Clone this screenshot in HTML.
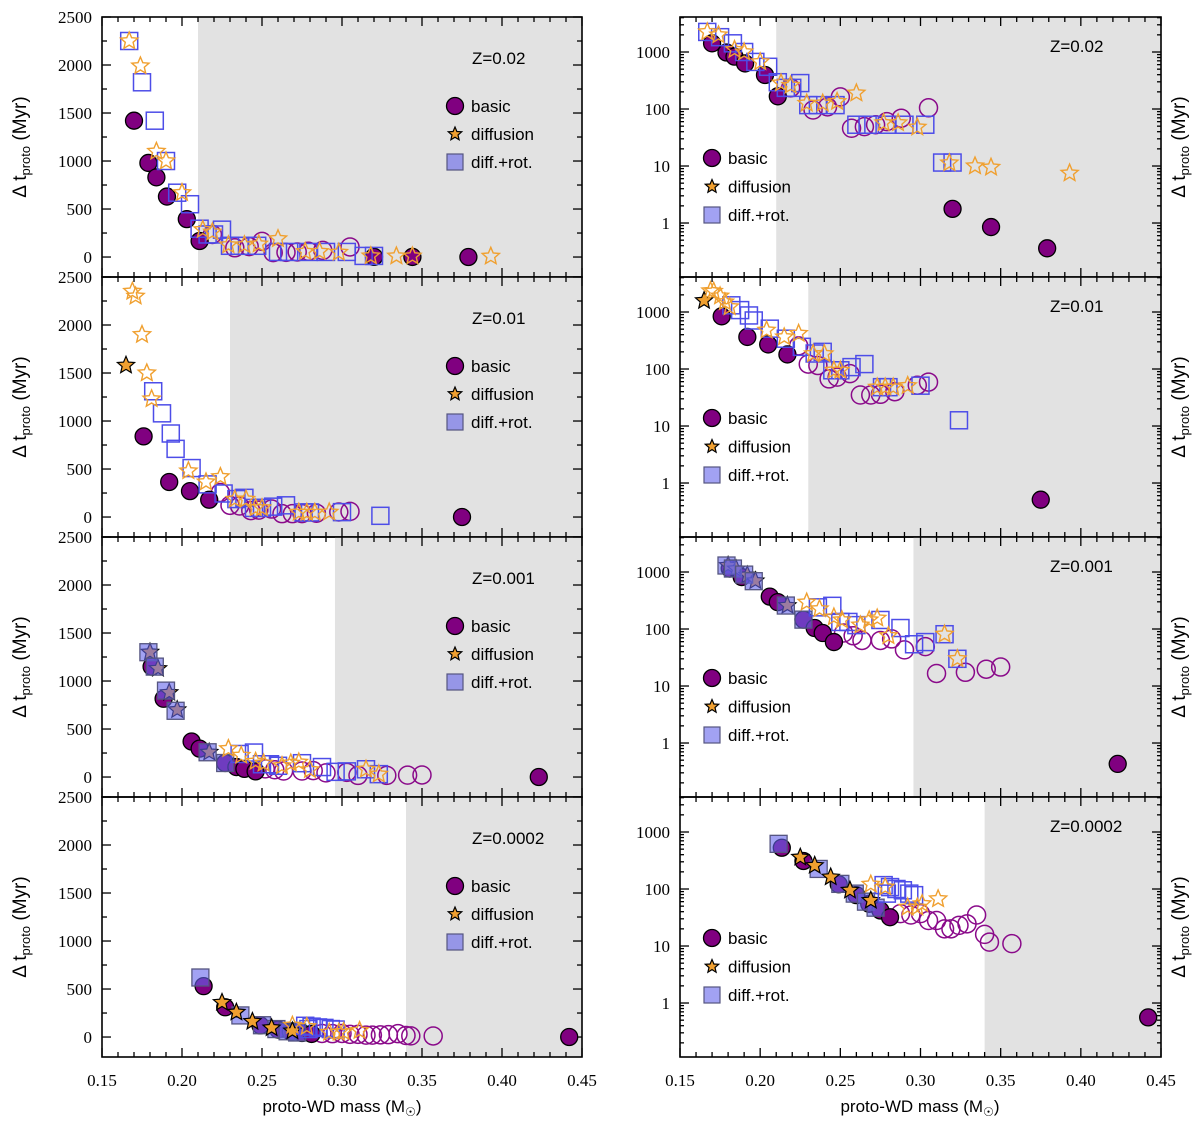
<!DOCTYPE html>
<html><head><meta charset="utf-8"><style>
html,body{margin:0;padding:0;background:#fff;}
svg{display:block;}
.tk{font-family:"Liberation Serif",serif;font-size:17px;fill:#000;}
.lb{font-family:"Liberation Sans",sans-serif;font-size:17px;fill:#000;}
.yt{font-family:"Liberation Sans",sans-serif;font-size:19px;fill:#000;}
</style></head><body>
<svg id="fig" width="1200" height="1131" viewBox="0 0 1200 1131" xmlns="http://www.w3.org/2000/svg"></svg>
<script>
// ---- data: [proto-WD mass, Delta t_proto (Myr)] ----
const zLabels = ["Z=0.02", "Z=0.01", "Z=0.001", "Z=0.0002"];
const shadeFrom = [0.21, 0.23, 0.2956, 0.34];

const z1_basic = [[0.170,1420],[0.179,980],[0.184,830],[0.1906,630],[0.203,395],[0.211,167],[0.320,1.77],[0.344,0.85],[0.379,0.36]];
const z1_basicOpen = [[0.219,235],[0.233,96],[0.242,109],[0.250,163],[0.257,46],[0.265,49],[0.272,53],[0.279,60],[0.288,69],[0.305,105]];
const z1_diff = [[0.167,2250],[0.174,1990],[0.184,1100],[0.190,1000],[0.200,670],[0.213,285],[0.219,260],[0.229,126],[0.239,126],[0.248,135],[0.260,190],[0.277,57],[0.286,57],[0.298,48],[0.318,11.3],[0.334,10],[0.344,9.5],[0.393,7.5]];
const z1_diffFilled = [];
const z1_rot = [[0.167,2250],[0.175,1820],[0.183,1420],[0.190,1000],[0.197,670],[0.205,550],[0.211,295],[0.216,235],[0.220,235],[0.225,285],[0.230,117],[0.236,117],[0.247,117],[0.260,53],[0.267,53],[0.279,53],[0.290,53],[0.303,53],[0.3135,11.5],[0.320,11.5]];
const z1_rotFilled = [];

const z2_basic = [[0.176,840],[0.192,365],[0.205,270],[0.217,180],[0.375,0.51]];
const z2_basicOpen = [[0.224,255],[0.230,122],[0.236,115],[0.243,67],[0.248,72],[0.256,83],[0.2625,35],[0.269,35],[0.275,36],[0.284,40],[0.298,52],[0.305,59]];
const z2_diff = [[0.169,2350],[0.171,2300],[0.175,1900],[0.178,1500],[0.181,1230],[0.204,480],[0.215,365],[0.224,420],[0.233,185],[0.240,185],[0.246,95],[0.250,95],[0.273,48],[0.278,48],[0.283,48],[0.292,51]];
const z2_diffFilled = [[0.165,1580]];
const z2_rot = [[0.182,1310],[0.1875,1080],[0.193,870],[0.196,710],[0.206,510],[0.216,340],[0.226,245],[0.234,187],[0.239,200],[0.245,95],[0.250,95],[0.257,108],[0.265,122],[0.276,48],[0.280,48],[0.300,51],[0.324,12.6]];
const z2_rotFilled = [];

const z3_basic = [[0.181,1150],[0.1885,815],[0.206,370],[0.211,296],[0.227,146],[0.234,104],[0.239,85],[0.246,59],[0.423,0.43]];
const z3_basicOpen = [[0.252,85],[0.258,76],[0.2635,63],[0.275,63],[0.282,67],[0.290,43],[0.303,49],[0.310,16.6],[0.328,17.4],[0.341,19.7],[0.350,21.5]];
const z3_diff = [[0.229,295],[0.237,225],[0.246,162],[0.251,144],[0.2625,117],[0.268,144],[0.273,155],[0.280,76],[0.315,81],[0.323,30]];
const z3_diffFilled = [[0.180,1300],[0.185,1130],[0.192,880],[0.197,700],[0.217,258]];
const z3_rot = [[0.236,240],[0.245,255],[0.250,133],[0.255,133],[0.260,117],[0.275,144],[0.2875,104],[0.296,54],[0.303,59],[0.315,81],[0.323,30]];
const z3_rotFilled = [[0.179,1300],[0.183,1150],[0.190,900],[0.196,690],[0.216,258],[0.227,146]];

const z4_basic = [[0.2135,530],[0.227,310],[0.249,121],[0.260,78],[0.268,55],[0.275,42],[0.281,32],[0.442,0.56]];
const z4_basicOpen = [[0.2875,37],[0.294,35],[0.300,37],[0.305,28],[0.310,28],[0.315,20],[0.319,20],[0.324,23],[0.329,24.5],[0.335,35],[0.340,16],[0.343,11.7],[0.357,11]];
const z4_diff = [[0.269,121],[0.278,108],[0.292,48],[0.298,48],[0.301,55],[0.311,67]];
const z4_diffFilled = [[0.225,360],[0.234,258],[0.244,162],[0.256,95],[0.269,63]];
const z4_rot = [[0.277,117],[0.279,83],[0.281,108],[0.285,100],[0.289,95],[0.293,83],[0.296,78]];
const z4_rotFilled = [[0.2115,620],[0.2365,225],[0.250,123],[0.259,83],[0.266,60],[0.272,47]];

const rows = [
 {basic:z1_basic,basicOpen:z1_basicOpen,diff:z1_diff,diffFilled:z1_diffFilled,rot:z1_rot,rotFilled:z1_rotFilled,sqTop:false},
 {basic:z2_basic,basicOpen:z2_basicOpen,diff:z2_diff,diffFilled:z2_diffFilled,rot:z2_rot,rotFilled:z2_rotFilled,sqTop:false},
 {basic:z3_basic,basicOpen:z3_basicOpen,diff:z3_diff,diffFilled:z3_diffFilled,rot:z3_rot,rotFilled:z3_rotFilled,sqTop:true},
 {basic:z4_basic,basicOpen:z4_basicOpen,diff:z4_diff,diffFilled:z4_diffFilled,rot:z4_rot,rotFilled:z4_rotFilled,sqTop:false}
];
const xTicks = [0.15,0.20,0.25,0.30,0.35,0.40,0.45];
const linTicks = [0,500,1000,1500,2000,2500];
const logTicks = [1,10,100,1000];

// ---- layout ----
const NS="http://www.w3.org/2000/svg";
const svg=document.getElementById('fig');
const XMIN=0.15,XMAX=0.45,PH=260,TOP=17;
const LIN_MIN=-208,LIN_MAX=2500,LOG_MIN=-0.947,LOG_MAX=3.614;
const panels=[{x0:102,x1:582,log:false},{x0:680,x1:1161,log:true}];
function mk(tag,attrs,parent){const e=document.createElementNS(NS,tag);for(const k in attrs)e.setAttribute(k,attrs[k]);(parent||svg).appendChild(e);return e;}
function starPts(cx,cy,R){const r=R*0.45;let p=[];for(let i=0;i<10;i++){const a=-Math.PI/2+i*Math.PI/5;const rr=i%2?r:R;p.push((cx+rr*Math.cos(a)).toFixed(1)+','+(cy+rr*Math.sin(a)).toFixed(1));}return p.join(' ');}

rows.forEach((row,ri)=>{
 const y0=TOP+ri*PH,y1=y0+PH;
 panels.forEach((P,pi)=>{
  const sx=m=>P.x0+(m-XMIN)/(XMAX-XMIN)*(P.x1-P.x0);
  const sy=P.log?(v=>y1-(Math.log10(v)-LOG_MIN)/(LOG_MAX-LOG_MIN)*PH):(v=>y1-(v-LIN_MIN)/(LIN_MAX-LIN_MIN)*PH);
  const g=mk('g',{});
  
  
  const sh=mk('rect',{x:sx(shadeFrom[ri]),y:y0,width:P.x1-sx(shadeFrom[ri]),height:PH,fill:'#e2e2e2'},g);
  
  
  const tg=mk('g',{stroke:'#000','stroke-width':1.3},g);
  
  
  for(let i=0;i<=30;i++){const m=XMIN+i*0.01,x=sx(m),L=(i%5===0)?9:5;
   mk('line',{x1:x,y1:y1,x2:x,y2:y1-L},tg);mk('line',{x1:x,y1:y0,x2:x,y2:y0+L},tg);}
  if(!P.log){
   for(let v=0;v<=2500;v+=250){const y=sy(v),L=(v%500===0)?9:5;
    mk('line',{x1:P.x0,y1:y,x2:P.x0+L,y2:y},tg);mk('line',{x1:P.x1,y1:y,x2:P.x1-L,y2:y},tg);}
  } else {
   for(let d=-1;d<=3;d++)for(let k=1;k<=9;k++){const v=k*Math.pow(10,d);const lv=Math.log10(v);if(lv<LOG_MIN||lv>LOG_MAX)continue;const y=sy(v),L=k===1?9:4;
    mk('line',{x1:P.x0,y1:y,x2:P.x0+L,y2:y},tg);mk('line',{x1:P.x1,y1:y,x2:P.x1-L,y2:y},tg);}
  }
  (P.log?logTicks:linTicks).forEach(v=>{const t=mk('text',{x:P.x0-10,y:sy(v)+6,'text-anchor':'end',class:'tk'},g);t.textContent=String(v);
   
   });
  if(ri===3){xTicks.forEach(m=>{const t=mk('text',{x:sx(m),y:1086,'text-anchor':'middle',class:'tk'},g);t.textContent=m.toFixed(2);
   
   });}
  const mg=mk('g',{},g);
  
  
  const drawSqF=()=>row.rotFilled.forEach(d=>{const x=sx(d[0]),y=sy(d[1]);const r=mk('rect',{x:x-8.5,y:y-8.5,width:17,height:17,fill:'rgba(100,100,235,0.6)',stroke:'#555580','stroke-width':1.3},mg);
   
   });
  const drawStF=()=>row.diffFilled.forEach(d=>{const s=mk('polygon',{points:starPts(sx(d[0]),sy(d[1]),9),fill:'#f0a030',stroke:'#000','stroke-width':1.2},mg);
   
   });
  row.basicOpen.forEach(d=>{const c=mk('circle',{cx:sx(d[0]),cy:sy(d[1]),r:9,fill:'none',stroke:'#8a0a8a','stroke-width':1.5},mg);
   
   });
  row.basic.forEach(d=>{const c=mk('circle',{cx:sx(d[0]),cy:sy(d[1]),r:8.5,fill:'#800080',stroke:'#000','stroke-width':1.3},mg);
   
   });
  if(row.sqTop){drawStF();drawSqF();}else{drawSqF();drawStF();}
  row.rot.forEach(d=>{const x=sx(d[0]),y=sy(d[1]);const r=mk('rect',{x:x-8.5,y:y-8.5,width:17,height:17,fill:'none',stroke:'#4d4de8','stroke-width':1.5},mg);
   
   });
  row.diff.forEach(d=>{const s=mk('polygon',{points:starPts(sx(d[0]),sy(d[1]),9),fill:'none',stroke:'#f0a030','stroke-width':1.4},mg);
   
   });
  const fr=mk('rect',{x:P.x0,y:y0,width:P.x1-P.x0,height:PH,fill:'none',stroke:'#000','stroke-width':1.6},g);
  
  
  const zt=mk('text',{x:P.log?1050:472,y:y0+(P.log?35:47),class:'lb'},g);zt.textContent=zLabels[ri];
  
  
  const lx=P.log?712:455,ly=y0+(P.log?141:89),dy=P.log?28.5:28;
  const lg=mk('g',{},g);
  
  
  mk('circle',{cx:lx,cy:ly,r:8.5,fill:'#800080',stroke:'#000','stroke-width':1.3},lg);
  mk('polygon',{points:starPts(lx,ly+dy,7),fill:'#f0a030',stroke:'#000','stroke-width':1.2},lg);
  mk('rect',{x:lx-8,y:ly+2*dy-8,width:16,height:16,fill:'rgba(100,100,235,0.6)',stroke:'#555580','stroke-width':1.2},lg);
  ['basic','diffusion','diff.+rot.'].forEach((s,i)=>{const t=mk('text',{x:lx+16,y:ly+i*dy+6,class:'lb'},lg);t.textContent=s;
   
   });
  const tx=P.log?1185:26,ty=y0+PH/2;
  const yt=mk('text',{x:tx,y:ty,'text-anchor':'middle',class:'yt',transform:`rotate(-90 ${tx} ${ty})`},g);
  
  
  yt.appendChild(document.createTextNode('Δ t'));
  const sub=mk('tspan',{'font-size':'13px',dy:4},yt);sub.textContent='proto';
  const rest=mk('tspan',{dy:-4},yt);rest.textContent=' (Myr)';
 });
});
[342,920].forEach(cx=>{const t=mk('text',{x:cx,y:1112,'text-anchor':'middle',class:'lb'});
 
 
 t.appendChild(document.createTextNode('proto-WD mass (M'));
 const s=mk('tspan',{'font-size':'12px',dy:4},t);s.textContent='☉';
 const r=mk('tspan',{dy:-4},t);r.textContent=')';});
</script>
</body></html>
